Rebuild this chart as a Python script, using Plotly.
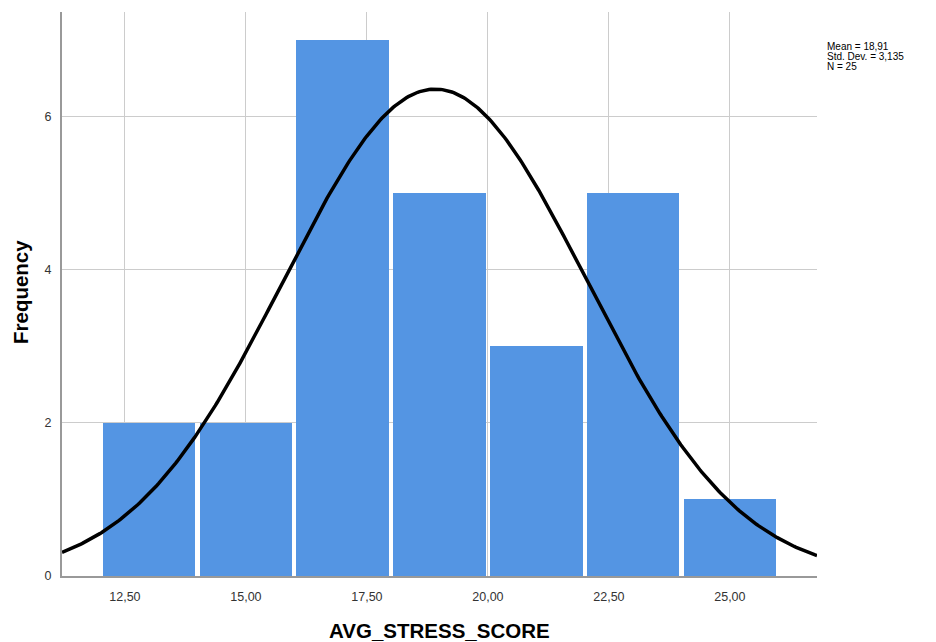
import numpy as np
import plotly.graph_objects as go

# Histogram of AVG_STRESS_SCORE: bin edges and counts
bin_starts = [12, 14, 16, 18, 20, 22, 24]
bin_width = 2
counts = [2, 2, 7, 5, 3, 5, 1]

# Summary statistics
mean_val = 18.91
std_val = 3.135
n_val = 25
stats_lines = ["Mean = 18,91", "Std. Dev. = 3,135", "N = 25"]

x_tick_vals = [12.5, 15.0, 17.5, 20.0, 22.5, 25.0]
x_tick_text = ["12,50", "15,00", "17,50", "20,00", "22,50", "25,00"]
y_tick_vals = [0, 2, 4, 6]

x_range = [11.2, 26.8]
y_range = [0, 7.37]

centers = [s + bin_width / 2 for s in bin_starts]

# Normal curve scaled to frequency (N * bin width)
xs = np.linspace(x_range[0], x_range[1], 400)
ys = n_val * bin_width / (std_val * np.sqrt(2 * np.pi)) * np.exp(-0.5 * ((xs - mean_val) / std_val) ** 2)

W, H = 936, 642
M = dict(l=62, r=119, t=12, b=66)
plot_w = W - M["l"] - M["r"]
plot_h = H - M["t"] - M["b"]

fig = go.Figure()
fig.add_trace(go.Bar(
    x=centers, y=counts, width=[bin_width * 0.955] * len(centers),
    marker=dict(color="#5495E3", line=dict(width=0)),
    hoverinfo="skip",
))
fig.add_trace(go.Scatter(
    x=xs, y=ys, mode="lines",
    line=dict(color="black", width=3.5), hoverinfo="skip",
))

font_family = "Liberation Sans, Arial, sans-serif"

annotations = [
    dict(xref="paper", yref="paper", x=0.5, y=-54 / plot_h,
         xanchor="center", yanchor="middle", showarrow=False,
         text="<b>AVG_STRESS_SCORE</b>", font=dict(size=20.5, color="black", family=font_family)),
    dict(xref="paper", yref="paper", x=-42 / plot_w, y=(576 - 292) / plot_h,
         xanchor="center", yanchor="middle", showarrow=False, textangle=-90,
         text="<b>Frequency</b>", font=dict(size=20.5, color="black", family=font_family)),
]
for i, line in enumerate(stats_lines):
    y_px = 46 + i * 10.3
    annotations.append(dict(
        xref="paper", yref="paper", x=1.0, xshift=8, y=(576 - y_px) / plot_h,
        xanchor="left", yanchor="middle", align="left", showarrow=False,
        text=line, font=dict(size=10, color="black", family=font_family),
    ))

fig.update_layout(
    width=W, height=H,
    margin=M,
    paper_bgcolor="white", plot_bgcolor="white",
    showlegend=False,
    bargap=0,
    font=dict(family=font_family, size=12, color="#333333"),
    xaxis=dict(
        range=x_range, tickvals=x_tick_vals, ticktext=x_tick_text,
        showgrid=True, gridcolor="#cccccc", gridwidth=1,
        showline=True, linecolor="#999999", linewidth=2,
        ticks="", ticklabelstandoff=8, zeroline=False, automargin=False,
        tickfont=dict(size=12.5, color="#333333"),
    ),
    yaxis=dict(
        range=y_range, tickvals=y_tick_vals,
        showgrid=True, gridcolor="#cccccc", gridwidth=1,
        showline=True, linecolor="#999999", linewidth=2,
        ticks="", ticklabelstandoff=6, zeroline=False, automargin=False,
        tickfont=dict(size=12.5, color="#333333"),
    ),
    annotations=annotations,
)

fig.write_html("out.html")
